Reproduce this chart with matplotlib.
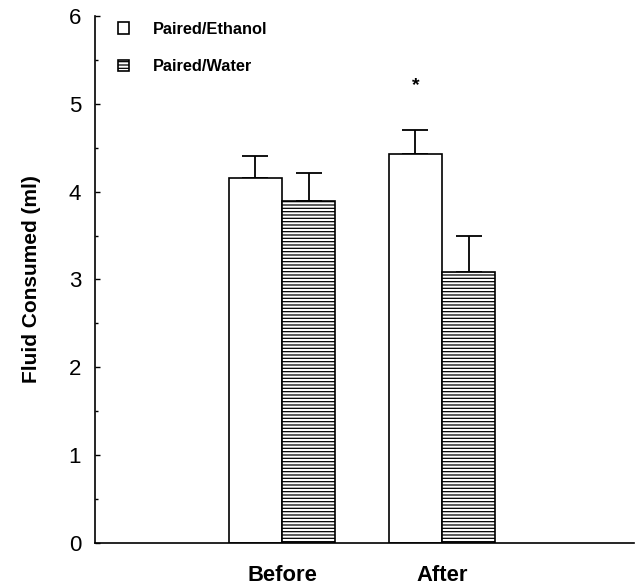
import matplotlib
matplotlib.use("Agg")
import matplotlib.pyplot as plt
from matplotlib.patches import Patch
from matplotlib.ticker import MultipleLocator
import numpy as np

plt.rcParams['font.family'] = ['Liberation Sans', 'DejaVu Sans']
plt.rcParams['hatch.linewidth'] = 0.9

groups = ["Before", "After"]
series = ["Paired/Ethanol", "Paired/Water"]
ethanol_mean = [4.16, 4.425]
ethanol_err = [0.245, 0.275]
water_mean = [3.894, 3.09]
water_err = [0.322, 0.405]
star_value = 5.21
yticks = [0, 1, 2, 3, 4, 5, 6]

fig = plt.figure(figsize=(6.35, 5.86), dpi=100)
ax = fig.add_axes([0.1496, 0.0734, 0.8488, 0.8993])

x = np.arange(1, len(groups) + 1)
w = 0.334

ax.bar(x - w/2, ethanol_mean, w, color='white', edgecolor='black', linewidth=1.2,
       label=series[0], zorder=2)
ax.bar(x + w/2, water_mean, w, color='white', edgecolor='black', linewidth=1.2,
       hatch='-----', label=series[1], zorder=2)
ax.errorbar(x - w/2, ethanol_mean, yerr=[np.zeros(2), ethanol_err], fmt='none',
            ecolor='black', elinewidth=1.3, capsize=9.7, capthick=1.3, zorder=1)
ax.errorbar(x + w/2, water_mean, yerr=[np.zeros(2), water_err], fmt='none',
            ecolor='black', elinewidth=1.3, capsize=9.7, capthick=1.3, zorder=1)

ax.text(x[1] - w/2, star_value, '*', ha='center', va='center', fontsize=14,
        fontweight='bold')

ax.set_xlim(-0.169, 3.2)
ax.set_ylim(0, 6)
ax.set_yticks(yticks)
ax.yaxis.set_minor_locator(MultipleLocator(0.5))
ax.tick_params(axis='y', which='major', direction='in', length=3.5, width=1,
               labelsize=16, pad=10)
ax.tick_params(axis='y', which='minor', direction='in', length=2.5, width=1)
ax.set_xticks(x)
ax.set_xticklabels(groups, fontsize=15.8, fontweight='bold')
ax.tick_params(axis='x', length=0, pad=16)

for s in ['top', 'right']:
    ax.spines[s].set_visible(False)
for s in ['left', 'bottom']:
    ax.spines[s].set_linewidth(1.2)

ax.set_ylabel('Fluid Consumed (ml)', fontsize=15, fontweight='bold', labelpad=20)

handles = [Patch(facecolor='white', edgecolor='black', linewidth=1.2),
           Patch(facecolor='white', edgecolor='black', linewidth=1.2, hatch='-----')]
ax.legend(handles, series, loc='upper left', bbox_to_anchor=(0.015, 1.017),
          frameon=False, prop={'weight': 'bold', 'size': 11.8},
          handlelength=0.67, handleheight=0.67, handletextpad=1.46,
          labelspacing=1.35)

fig.savefig('out.png', dpi=100)
